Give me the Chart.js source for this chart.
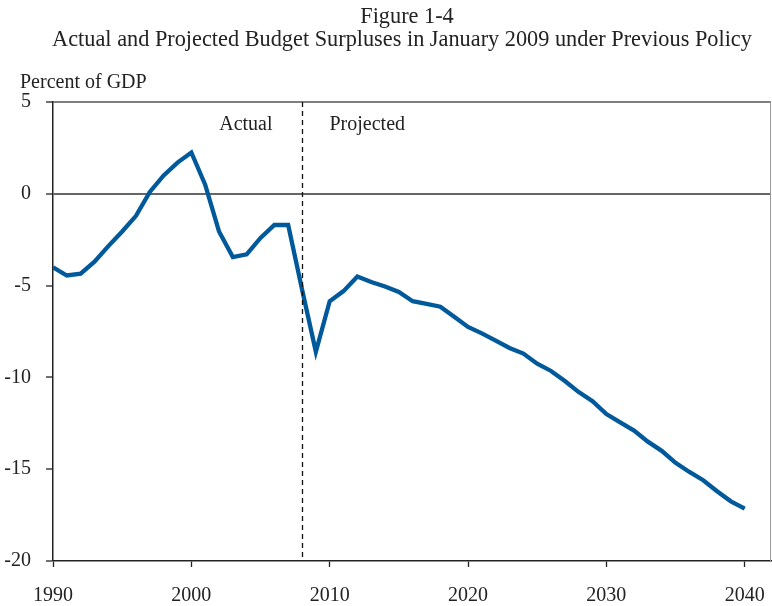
<!DOCTYPE html>
<html>
<head>
<meta charset="utf-8">
<script src="https://cdn.jsdelivr.net/npm/chart.js@4.4.1/dist/chart.umd.min.js"></script>
<style>
  body { margin: 0; background: #fff; }
  #wrap { width: 772px; height: 606px; }
</style>
</head>
<body>
<div id="wrap"><canvas id="budgetChart" width="772" height="606"></canvas></div>
<script>
// data (percent of GDP)
const years = [
  1990, 1991, 1992, 1993, 1994, 1995, 1996, 1997, 1998, 1999,
  2000, 2001, 2002, 2003, 2004, 2005, 2006, 2007, 2008, 2009,
  2010, 2011, 2012, 2013, 2014, 2015, 2016, 2017, 2018, 2019,
  2020, 2021, 2022, 2023, 2024, 2025, 2026, 2027, 2028, 2029,
  2030, 2031, 2032, 2033, 2034, 2035, 2036, 2037, 2038, 2039,
  2040
];
const surplus = [
  -4.0, -4.45, -4.35, -3.7, -2.85, -2.05, -1.2, 0.1, 1.0, 1.7,
  2.25, 0.5, -2.05, -3.45, -3.3, -2.4, -1.7, -1.7, -5.2, -8.6,
  -5.85, -5.3, -4.5, -4.8, -5.05, -5.35, -5.85, -6.0, -6.15, -6.7,
  -7.25, -7.6, -8.0, -8.4, -8.7, -9.25, -9.65, -10.2, -10.8, -11.3,
  -12.0, -12.45, -12.9, -13.5, -14.0, -14.65, -15.15, -15.6, -16.2, -16.75,
  -17.15
];
const xTicks = [1990, 2000, 2010, 2020, 2030, 2040];
const yTicks = [5, 0, -5, -10, -15, -20];
const dividerYear = 2008;

const titleLines = ["Figure 1-4", "Actual and Projected Budget Surpluses in January 2009 under Previous Policy"];
const yAxisTitle = "Percent of GDP";
const leftLabel = "Actual";
const rightLabel = "Projected";

const serif = "'Liberation Serif', 'Times New Roman', serif";
const textColor = "#222";

// titles, frame, divider line and the two period labels
const decorations = {
  id: "decorations",
  afterDraw(chart) {
    const ctx = chart.ctx;
    const area = chart.chartArea;
    const xs = chart.scales.x;
    ctx.save();

    // top + right frame
    ctx.strokeStyle = "#555";
    ctx.lineWidth = 1.5;
    ctx.beginPath();
    ctx.moveTo(area.left, area.top);
    ctx.lineTo(area.right, area.top);
    ctx.stroke();
    ctx.strokeStyle = "#999";
    ctx.lineWidth = 1;
    ctx.beginPath();
    ctx.moveTo(area.right - 0.5, area.top);
    ctx.lineTo(area.right - 0.5, area.bottom);
    ctx.stroke();

    // actual / projected split
    const dx = Math.round(xs.getPixelForValue(dividerYear)) + 0.5;
    ctx.strokeStyle = "#111";
    ctx.lineWidth = 1.3;
    ctx.setLineDash([5, 4]);
    ctx.beginPath();
    ctx.moveTo(dx, area.top);
    ctx.lineTo(dx, area.bottom);
    ctx.stroke();
    ctx.setLineDash([]);

    ctx.fillStyle = textColor;
    ctx.font = "20px " + serif;
    ctx.textBaseline = "alphabetic";
    ctx.textAlign = "right";
    ctx.fillText(leftLabel, dx - 30, 130);
    ctx.textAlign = "left";
    ctx.fillText(rightLabel, dx + 27, 130);

    ctx.fillText(yAxisTitle, 20, 88);

    ctx.font = "22.3px " + serif;
    ctx.textAlign = "center";
    ctx.fillText(titleLines[0], 407, 23);
    ctx.fillText(titleLines[1], 402, 46);

    ctx.restore();
  }
};

const ctx = document.getElementById("budgetChart");
const chart = new Chart(ctx, {
  type: "line",
  data: {
    datasets: [{
      data: years.map((y, i) => ({ x: y, y: surplus[i] })),
      borderColor: "#00599a",
      borderWidth: 4.3,
      pointRadius: 0,
      tension: 0,
      fill: false
    }]
  },
  options: {
    responsive: false,
    animation: false,
    events: [],
    layout: { padding: { top: 102, right: 1, left: 0, bottom: 0 } },
    plugins: {
      legend: { display: false },
      tooltip: { enabled: false },
      title: { display: false }
    },
    scales: {
      x: {
        type: "linear",
        min: 1990,
        max: 2041.9,
        afterFit(scale) {
          scale.height = 45;
          scale.paddingLeft = 0;
          scale.paddingRight = 0;
        },
        afterBuildTicks(scale) { scale.ticks = xTicks.map(v => ({ value: v })); },
        border: { color: "#222", width: 1.5 },
        grid: { drawOnChartArea: false, tickLength: 6, tickColor: "#222", tickWidth: 1.3 },
        ticks: {
          padding: 17,
          maxRotation: 0,
          autoSkip: false,
          color: textColor,
          font: { family: serif, size: 20 },
          callback: v => String(v)
        }
      },
      y: {
        min: -20,
        max: 5,
        afterFit(scale) {
          scale.width = 53;
          scale.paddingTop = 0;
          scale.paddingBottom = 0;
        },
        afterBuildTicks(scale) { scale.ticks = yTicks.map(v => ({ value: v })); },
        border: { color: "#222", width: 1.5 },
        grid: {
          color: c => (c.tick && c.tick.value === 0 ? "#666" : "rgba(0,0,0,0)"),
          lineWidth: c => (c.tick && c.tick.value === 0 ? 2 : 0),
          tickLength: 7,
          tickColor: "#222",
          tickWidth: 1.3
        },
        ticks: {
          padding: 15,
          color: textColor,
          font: { family: serif, size: 20 },
          callback: v => String(v)
        }
      }
    }
  },
  plugins: [decorations]
});
</script>
</body>
</html>
